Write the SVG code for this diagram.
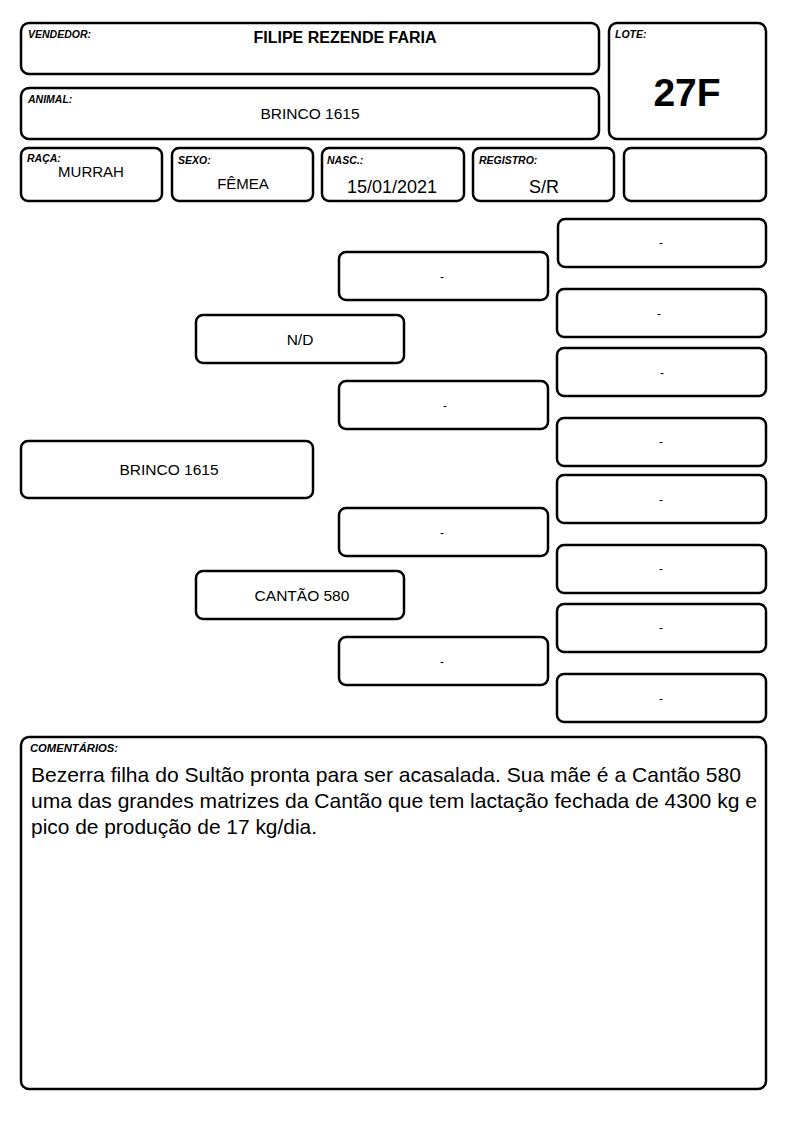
<svg xmlns="http://www.w3.org/2000/svg" width="794" height="1123" viewBox="0 0 794 1123">
<style>
.b{fill:#fff;stroke:#000;stroke-width:2.5}
.lbl{font-family:"Liberation Sans",Arial,sans-serif;font-size:10.5px;font-weight:bold;font-style:italic;fill:#000}
.t{font-family:"Liberation Sans",Arial,sans-serif;font-size:15.5px;fill:#000;text-anchor:middle}
.d{font-family:"Liberation Sans",Arial,sans-serif;font-size:12px;fill:#000;text-anchor:middle}
</style>
<rect width="794" height="1123" fill="#fff"/>
<g id="vendedor"><rect class="b" x="21" y="23" width="578" height="51" rx="8"/><text class="lbl" x="28" y="38">VENDEDOR:</text><text class="t" x="345" y="43" style="font-size:16px;font-weight:bold">FILIPE REZENDE FARIA</text></g>
<g id="lote"><rect class="b" x="609" y="23" width="157" height="116" rx="8"/><text class="lbl" x="615" y="38">LOTE:</text><text class="t" x="687" y="106" style="font-size:39px;font-weight:bold">27F</text></g>
<g id="animal"><rect class="b" x="21" y="88" width="578" height="51" rx="8"/><text class="lbl" x="28" y="103">ANIMAL:</text><text class="t" x="310" y="119">BRINCO 1615</text></g>
<g id="raca"><rect class="b" x="21" y="148" width="141" height="53" rx="7"/><text class="lbl" x="27" y="162">RAÇA:</text><text class="t" x="91" y="177" style="font-size:15px">MURRAH</text></g>
<g id="sexo"><rect class="b" x="172" y="148" width="141" height="53" rx="7"/><text class="lbl" x="178" y="164">SEXO:</text><text class="t" x="243" y="189" style="font-size:15px">FÊMEA</text></g>
<g id="nasc"><rect class="b" x="322" y="148" width="142" height="53" rx="7"/><text class="lbl" x="327" y="164">NASC.:</text><text class="t" x="392" y="193" style="font-size:18px">15/01/2021</text></g>
<g id="registro"><rect class="b" x="473" y="148" width="141" height="53" rx="7"/><text class="lbl" x="479" y="164">REGISTRO:</text><text class="t" x="544" y="193" style="font-size:18px">S/R</text></g>
<g id="blank"><rect class="b" x="624" y="148" width="142" height="53" rx="7"/></g>
<g id="connectors"></g>
<g id="animal-node"><rect class="b" x="21" y="441" width="292" height="57" rx="7"/><text class="t" x="169" y="475">BRINCO 1615</text></g>
<g id="pai"><rect class="b" x="196" y="315" width="208" height="48" rx="7"/><text class="t" x="300" y="345">N/D</text></g>
<g id="mae"><rect class="b" x="196" y="571" width="208" height="48" rx="7"/><text class="t" x="302" y="601">CANTÃO 580</text></g>
<g id="avo1"><rect class="b" x="339" y="252" width="209" height="48" rx="7"/><text class="d" x="442" y="281">-</text></g>
<g id="avo2"><rect class="b" x="339" y="381" width="209" height="48" rx="7"/><text class="d" x="445" y="410">-</text></g>
<g id="avo3"><rect class="b" x="339" y="508" width="209" height="48" rx="7"/><text class="d" x="442" y="537">-</text></g>
<g id="avo4"><rect class="b" x="339" y="637" width="209" height="48" rx="7"/><text class="d" x="442" y="666">-</text></g>
<g id="bis1"><rect class="b" x="558" y="219" width="208" height="48" rx="7"/><text class="d" x="661" y="247">-</text></g>
<g id="bis2"><rect class="b" x="557" y="289" width="209" height="48" rx="7"/><text class="d" x="659" y="318">-</text></g>
<g id="bis3"><rect class="b" x="557" y="348" width="209" height="48" rx="7"/><text class="d" x="662" y="377">-</text></g>
<g id="bis4"><rect class="b" x="557" y="418" width="209" height="48" rx="7"/><text class="d" x="661" y="446">-</text></g>
<g id="bis5"><rect class="b" x="557" y="475" width="209" height="48" rx="7"/><text class="d" x="661" y="504">-</text></g>
<g id="bis6"><rect class="b" x="557" y="545" width="209" height="48" rx="7"/><text class="d" x="661" y="573">-</text></g>
<g id="bis7"><rect class="b" x="557" y="604" width="209" height="48" rx="7"/><text class="d" x="661" y="632">-</text></g>
<g id="bis8"><rect class="b" x="557" y="674" width="209" height="48" rx="7"/><text class="d" x="661" y="703">-</text></g>
<g id="comentarios"><rect class="b" x="21" y="737" width="745" height="352" rx="8"/><text class="lbl" x="30" y="752" style="font-size:11px" textLength="88" lengthAdjust="spacingAndGlyphs">COMENTÁRIOS:</text>
<g font-family="'Liberation Sans',Arial,sans-serif" font-size="21" fill="#000"><text x="31" y="782" textLength="710" lengthAdjust="spacingAndGlyphs">Bezerra filha do Sultão pronta para ser acasalada. Sua mãe é a Cantão 580</text><text x="31" y="808" textLength="726" lengthAdjust="spacingAndGlyphs">uma das grandes matrizes da Cantão que tem lactação fechada de 4300 kg e</text><text x="31" y="834" textLength="286" lengthAdjust="spacingAndGlyphs">pico de produção de 17 kg/dia.</text></g></g>
</svg>
